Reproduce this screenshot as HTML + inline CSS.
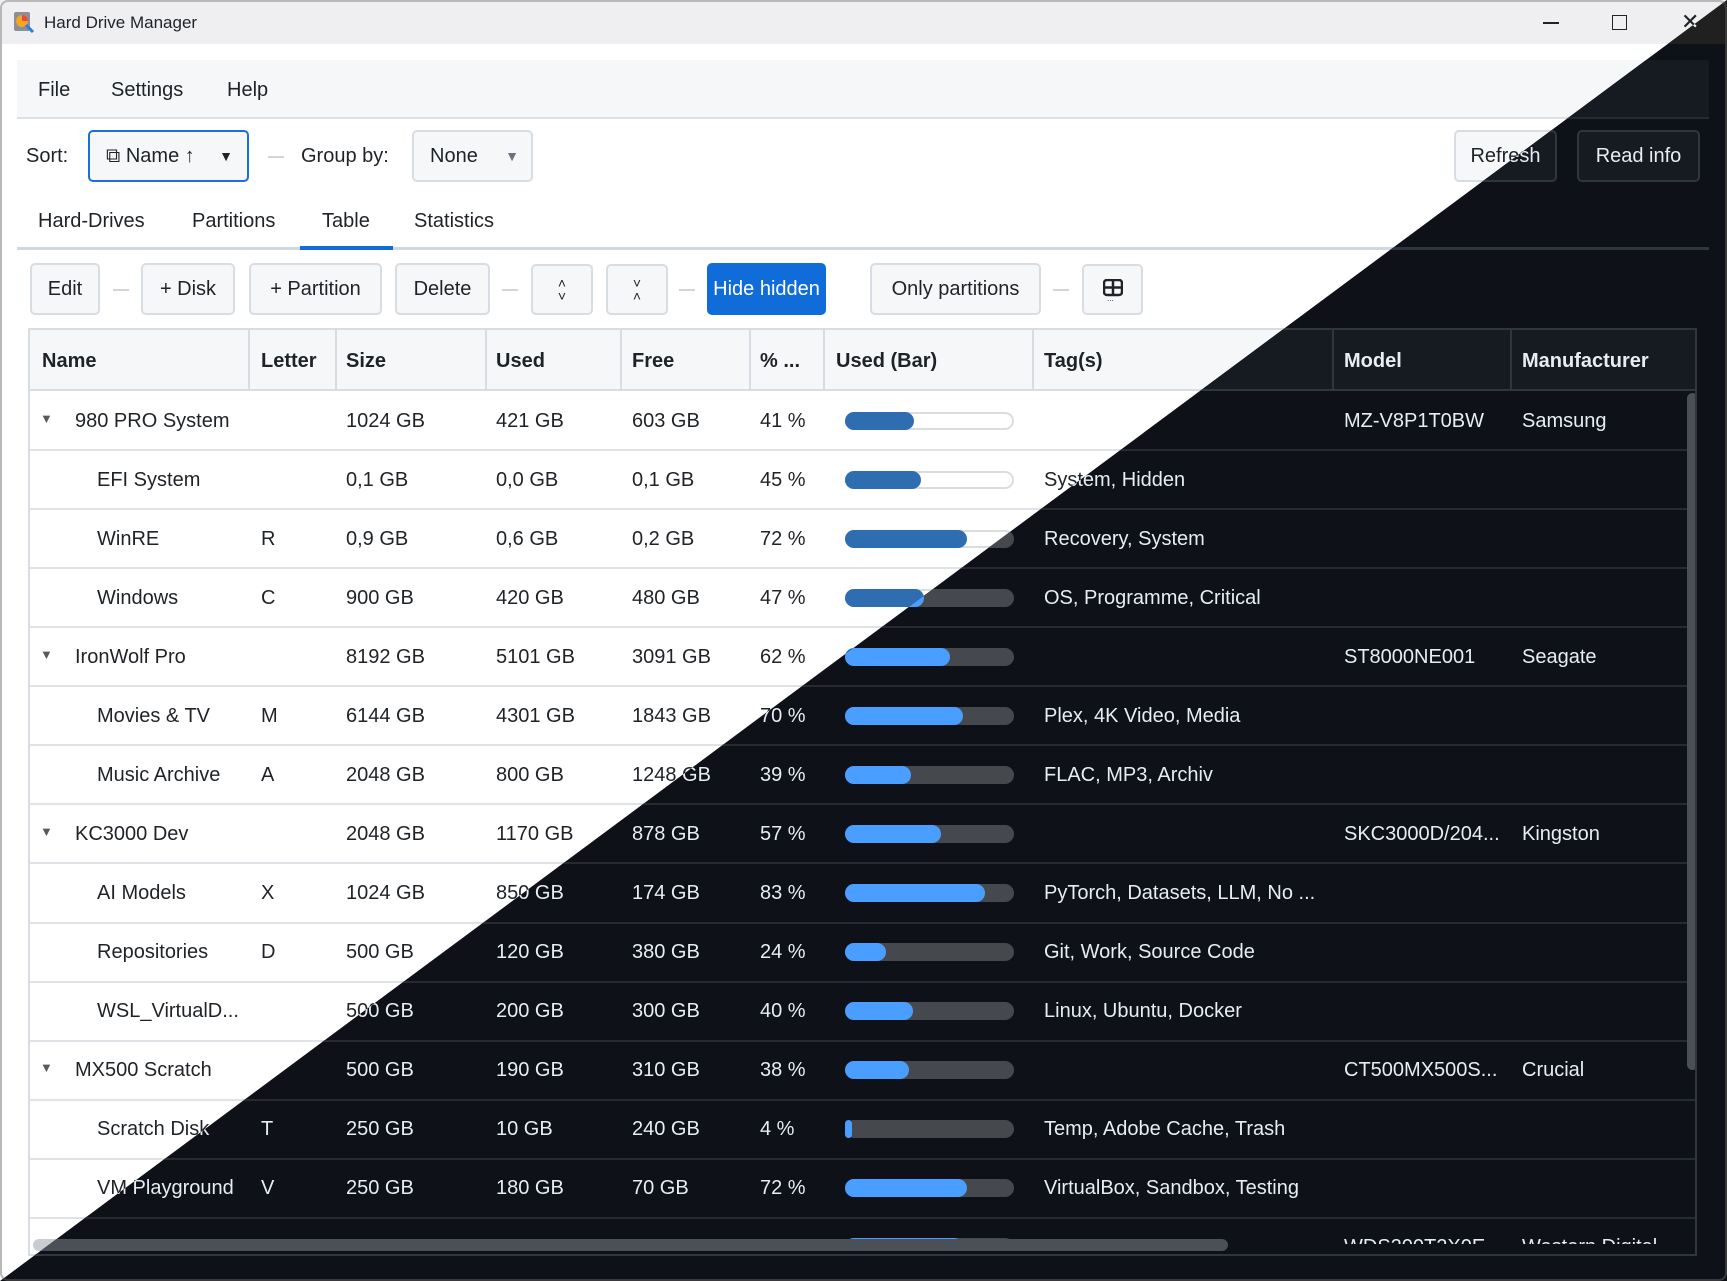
<!DOCTYPE html>
<html><head><meta charset="utf-8"><style>
*{box-sizing:border-box;margin:0;padding:0}
html,body{width:1727px;height:1281px;overflow:hidden;background:#fff;font-family:"Liberation Sans",sans-serif}
.layer{position:absolute;left:0;top:0;width:1727px;height:1281px;overflow:hidden}
.abs{position:absolute}
.t{position:absolute;white-space:nowrap;line-height:1}
.frame{position:absolute;left:0;top:0;width:1727px;height:1281px;border-radius:8px;pointer-events:none}
.L{background:#fff;color:#1f2328}
.L .frame{border:2px solid #b8b8b8}
.L .title{background:#efeff1}
.L .menubar{background:#f6f7f9;border-bottom:2px solid #dde1e6}
.L .btn{background:#f6f7f9;border:2px solid #d8dde3;color:#1f2328}
.L .sep{background:#d0d5da}
.L .tabline{background:#d0d7de}
.L .thead{background:#f6f7f9;border-bottom:2px solid #d8dde3}
.L .col{background:#d8dde3}
.L .rowline{background:#dfe3e8}
.L .track{background:#fff;border:2px solid #dadde0}
.L .fill{background:#2d6db0}
.L .tbl{border:2px solid #d8dde3}
.L .hscroll{background:#c9cdd1}
.L .vscroll{background:#c9cdd1}
.D{background:#0e1117;color:#e6edf3}
.D .frame{border:2px solid #3a3a3a}
.D .title{background:#202020}
.D .menubar{background:#161a21;border-bottom:2px solid #262b33}
.D .btn{background:#161a21;border:2px solid #30363d;color:#e6edf3}
.D .sep{background:#30363d}
.D .tabline{background:#30363d}
.D .thead{background:#161a21;border-bottom:2px solid #30363d}
.D .col{background:#30363d}
.D .rowline{background:#262b31}
.D .track{background:#45494d;border:2px solid #45494d}
.D .fill{background:#4a9eff}
.D .tbl{border:2px solid #30363d}
.D .hscroll{background:#4b5058}
.D .vscroll{background:#4b5058}
.D .title .t{color:#f0f0f0}
.btn{position:absolute;border-radius:5px;font-size:20px;display:flex;align-items:center;justify-content:center}
.btn.primary{background:#0f6cd8 !important;border-color:#0f6cd8 !important;color:#fff !important}
.sep{position:absolute;height:2px;width:16px}
.th{font-weight:bold;font-size:20px}
.cell{font-size:20px}
</style></head><body>
<div id="light" class="layer L">
  <div class="abs title" style="left:0;top:0;width:1727px;height:44px">
    <svg class="abs" style="left:13px;top:11px" width="22" height="22"><rect x="1" y="1" width="16" height="19" rx="2" fill="#8a8f99"/><circle cx="9" cy="10" r="6" fill="#f5a623"/><path d="M9 10 L9 4 A6 6 0 0 1 15 10Z" fill="#e74c3c"/><line x1="13" y1="14" x2="20" y2="21" stroke="#2a7de1" stroke-width="3"/></svg>
    <div class="t" style="left:44px;top:14px;font-size:17px">Hard Drive Manager</div>
    <div class="abs" style="left:1543px;top:22px;width:16px;height:1.5px;background:currentColor"></div>
    <div class="abs" style="left:1612px;top:15px;width:15px;height:15px;border:1.5px solid currentColor"></div>
    <div class="t" style="left:1681px;top:11px;font-size:22px">✕</div>
  </div>
  <div class="abs menubar" style="left:17px;top:60px;width:1692px;height:59px">
    <div class="t" style="left:21px;top:20px;font-size:20px">File</div>
    <div class="t" style="left:94px;top:20px;font-size:20px">Settings</div>
    <div class="t" style="left:210px;top:20px;font-size:20px">Help</div>
  </div>
  <div class="t" style="left:26px;top:146px;font-size:20px">Sort:</div>
  <div class="btn" style="left:88px;top:130px;width:161px;height:52px;border-color:#1a6fd8;justify-content:flex-start;padding-left:16px">⧉&nbsp;Name ↑<span style="position:absolute;right:14px;font-size:14px">▼</span></div>
  <div class="sep" style="left:268px;top:156px"></div>
  <div class="t" style="left:301px;top:146px;font-size:20px">Group by:</div>
  <div class="btn" style="left:412px;top:130px;width:121px;height:52px;justify-content:flex-start;padding-left:16px">None<span style="position:absolute;right:12px;font-size:14px;color:#6b7280">▼</span></div>
  <div class="btn" style="left:1454px;top:130px;width:103px;height:52px">Refresh</div>
  <div class="btn" style="left:1577px;top:130px;width:123px;height:52px">Read info</div>
  <div class="t" style="left:38px;top:211px;font-size:20px">Hard-Drives</div>
  <div class="t" style="left:192px;top:211px;font-size:20px">Partitions</div>
  <div class="t" style="left:322px;top:211px;font-size:20px">Table</div>
  <div class="t" style="left:414px;top:211px;font-size:20px">Statistics</div>
  <div class="abs tabline" style="left:17px;top:247px;width:1692px;height:3px"></div>
  <div class="abs" style="left:300px;top:246px;width:93px;height:4px;background:#0f6cd8"></div>
  <div class="btn" style="left:30px;top:263px;width:70px;height:52px">Edit</div>
  <div class="sep" style="left:113px;top:289px"></div>
  <div class="btn" style="left:141px;top:263px;width:94px;height:52px">+ Disk</div>
  <div class="btn" style="left:249px;top:263px;width:133px;height:52px">+ Partition</div>
  <div class="btn" style="left:395px;top:263px;width:95px;height:52px">Delete</div>
  <div class="sep" style="left:502px;top:289px"></div>
  <div class="btn" style="left:531px;top:264px;width:62px;height:51px;font-size:14px;line-height:0.9;flex-direction:column"><span>˄</span><span>˅</span></div>
  <div class="btn" style="left:606px;top:264px;width:62px;height:51px;font-size:14px;line-height:0.9;flex-direction:column"><span>˅</span><span>˄</span></div>
  <div class="sep" style="left:679px;top:289px"></div>
  <div class="btn primary" style="left:707px;top:263px;width:119px;height:52px">Hide hidden</div>
  <div class="btn" style="left:870px;top:263px;width:171px;height:52px">Only partitions</div>
  <div class="sep" style="left:1053px;top:289px"></div>
  <div class="btn" style="left:1082px;top:264px;width:61px;height:51px"><svg width="20" height="22"><rect x="1" y="1" width="18" height="15" rx="3" fill="none" stroke="currentColor" stroke-width="2.5"/><line x1="10" y1="1" x2="10" y2="16" stroke="currentColor" stroke-width="2.5"/><line x1="1" y1="8.5" x2="19" y2="8.5" stroke="currentColor" stroke-width="2.5"/><text x="4" y="22" font-size="8" fill="currentColor">...</text></svg></div>
  <div class="abs tbl" style="left:28px;top:328px;width:1669px;height:928px;overflow:hidden">
    <div class="abs thead" style="left:0;top:0;width:1667px;height:61px"></div>
    <div id="tbody" class="abs" style="left:0;top:0;width:1667px;height:914px;overflow:hidden"></div>
    <div class="abs hscroll" style="left:3px;top:909px;width:1195px;height:12px;border-radius:6px"></div>
    <div class="abs vscroll" style="left:1657px;top:63px;width:11px;height:677px;border-radius:6px"></div>
  </div>
  <div class="frame"></div>
</div>
<script>
const names=["980 PRO System","EFI System","WinRE","Windows","IronWolf Pro","Movies & TV","Music Archive","KC3000 Dev","AI Models","Repositories","WSL_VirtualD...","MX500 Scratch","Scratch Disk","VM Playground","WD_BLACK SN850X"];
const isGroup=[1,0,0,0,1,0,0,1,0,0,0,1,0,0,1];
const letters=["","","R","C","","M","A","","X","D","","","T","V",""];
const sizes=["1024 GB","0,1 GB","0,9 GB","900 GB","8192 GB","6144 GB","2048 GB","2048 GB","1024 GB","500 GB","500 GB","500 GB","250 GB","250 GB","2048 GB"];
const used=["421 GB","0,0 GB","0,6 GB","420 GB","5101 GB","4301 GB","800 GB","1170 GB","850 GB","120 GB","200 GB","190 GB","10 GB","180 GB","1434 GB"];
const free=["603 GB","0,1 GB","0,2 GB","480 GB","3091 GB","1843 GB","1248 GB","878 GB","174 GB","380 GB","300 GB","310 GB","240 GB","70 GB","614 GB"];
const pct=[41,45,72,47,62,70,39,57,83,24,40,38,4,72,70];
const tags=["","System, Hidden","Recovery, System","OS, Programme, Critical","","Plex, 4K Video, Media","FLAC, MP3, Archiv","","PyTorch, Datasets, LLM, No ...","Git, Work, Source Code","Linux, Ubuntu, Docker","","Temp, Adobe Cache, Trash","VirtualBox, Sandbox, Testing",""];
const models=["MZ-V8P1T0BW","","","","ST8000NE001","","","SKC3000D/204...","","","","CT500MX500S...","","","WDS200T2X0E"];
const makers=["Samsung","","","","Seagate","","","Kingston","","","","Crucial","","","Western Digital"];
const headers=["Name","Letter","Size","Used","Free","% ...","Used (Bar)","Tag(s)","Model","Manufacturer"];
const colX=[0,218,305,455,590,719,793,1002,1302,1480,1658];
const textX=[12,231,316,466,602,730,806,1014,1314,1492];
const ROWH=59.06, HEADH=61, BARX=815, BARW=169;
const body=document.getElementById('tbody');
function add(parent,cls,style,txt){const d=document.createElement('div');d.className=cls;d.style.cssText=style;if(txt!==undefined)d.textContent=txt;parent.appendChild(d);return d;}
headers.forEach((h,i)=>{
  const e=add(body,'t th',`left:${textX[i]}px;top:${HEADH/2-10}px`,h);
  
  
});
for(let i=1;i<colX.length-1;i++){
  const c=add(body,'abs col',`left:${colX[i]}px;top:0;width:2px;height:${HEADH}px`);
  
  
}
names.forEach((n,r)=>{
  const top=HEADH+r*ROWH, cy=top+ROWH/2;
  const row=add(body,'abs',`left:0;top:${top}px;width:1667px;height:${ROWH}px`);
  
  
  const line=add(body,'abs rowline',`left:0;top:${top+ROWH-1}px;width:1667px;height:2px`);
  
  
  if(isGroup[r]){
    const tri=add(body,'t',`left:10px;top:${cy-9}px;font-size:13px;opacity:.75`,'▼');
    
    
  }
  const vals=[n,letters[r],sizes[r],used[r],free[r],pct[r]+' %',null,tags[r],models[r],makers[r]];
  vals.forEach((v,i)=>{
    if(v===null||v==='')return;
    const x=i===0?(isGroup[r]?45:67):textX[i];
    const e=add(body,'t cell',`left:${x}px;top:${cy-10}px`,v);
    
    
  });
  const tr=add(body,'abs track',`left:${BARX}px;top:${cy-9}px;width:${BARW}px;height:18px;border-radius:9px`);
  
  
  const f=add(body,'abs fill',`left:${BARX}px;top:${cy-9}px;width:${Math.max(6,BARW*pct[r]/100)}px;height:18px;border-radius:9px`);
  
  
});
const light=document.getElementById('light');
const dark=light.cloneNode(true);
dark.id='dark';
dark.className='layer D';

dark.style.clipPath='polygon(1727px 0,1727px 1281px,0 1281px)';
document.body.appendChild(dark);
</script>
</body></html>
